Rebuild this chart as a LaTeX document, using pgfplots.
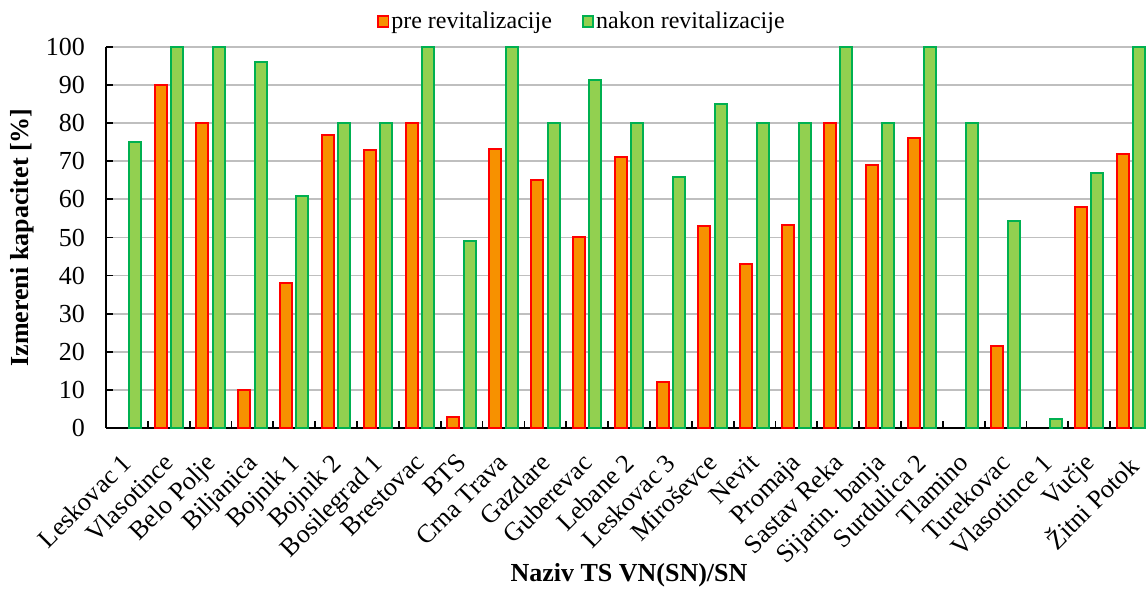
\documentclass[border=0pt]{standalone}
\usepackage{pgfplots}
\pgfplotsset{compat=1.18}
\usepackage{fontspec}
\setmainfont{Liberation Serif}
\definecolor{preFill}{HTML}{F79100}
\definecolor{preEdge}{HTML}{FF0000}
\definecolor{postFill}{HTML}{92D050}
\definecolor{postEdge}{HTML}{00B050}
\definecolor{gridGray}{HTML}{BFBFBF}
\begin{document}
\begin{tikzpicture}
\useasboundingbox (-53pt,-82pt) rectangle (520pt,214pt);
\begin{axis}[
  at={(0,0)}, anchor=south west,
  scale only axis,
  width=523pt, height=190.5pt,
  ybar=2.2pt, bar width=6pt,
  xmin=-0.5, xmax=24.5,
  ymin=0, ymax=100,
  ytick={0,10,...,100},
  xtick={0,...,24},
  xticklabels={Leskovac 1,Vlasotince,Belo Polje,Biljanica,Bojnik 1,Bojnik 2,Bosilegrad 1,Brestovac,BTS,Crna Trava,Gazdare,Guberevac,Lebane 2,Leskovac 3,Miroševce,Nevit,Promaja,Sastav Reka,Sijarin. banja,Surdulica 2,Tlamino,Turekovac,Vlasotince 1,Vučje,Žitni Potok},
  minor xtick={0.5,1.5,...,23.5},
  major x tick style={draw=none},
  minor tick length=3.5pt,
  major tick length=3.5pt,
  tick align=inside,
  tick style={black, line width=0.9pt},
  axis x line*=bottom, axis y line*=left,
  axis line style={black, line width=1pt, -},
  ymajorgrids, grid style={gridGray, line width=0.9pt},
  /pgf/number format/assume math mode=true,
  ticklabel style={font=\fontsize{13}{15}\selectfont},
  yticklabel style={xshift=-7pt},
  xticklabel style={xshift=-7.5pt, yshift=-7.5pt, rotate=45, anchor=north east, inner sep=1pt, xshift=1pt, yshift=-5pt},
  xlabel={\textbf{Naziv TS VN(SN)/SN}},
  ylabel={\textbf{Izmereni kapacitet [\%]}},
  label style={font=\fontsize{13}{15}\selectfont},
  xlabel style={at={(axis description cs:0.5,-0.3858)}, anchor=center},
  ylabel style={at={(axis description cs:-0.0803,0.5)}, anchor=center},
  legend columns=2,
  legend style={draw=none, fill=none, at={(rel axis cs:0.455,1.066)}, anchor=center,
    font=\fontsize{12}{14}\selectfont,
    /tikz/every even column/.append style={column sep=14pt},
    nodes={inner sep=1pt}},
  legend image code/.code={\draw[#1, line width=0.9pt] (0pt,-2.6pt) rectangle (5.2pt,2.8pt);},
  clip=false,
]
\addplot[fill=preFill, draw=preEdge, line width=1pt] coordinates {
(1,90) (2,80) (3,10) (4,38) (5,77) (6,73) (7,80) (8,3) (9,73.3)
(10,65) (11,50) (12,71) (13,12) (14,53) (15,43) (16,53.3) (17,80) (18,69) (19,76)
(21,21.5) (23,58) (24,72)};
\addplot[fill=postFill, draw=postEdge, line width=1pt] coordinates {
(0,75) (1,100) (2,100) (3,96) (4,61) (5,80) (6,80) (7,100) (8,49) (9,100)
(10,80) (11,91.3) (12,80) (13,66) (14,85) (15,80) (16,80) (17,100) (18,80) (19,100)
(20,80) (21,54.3) (22,2.4) (23,67) (24,100)};
\legend{pre revitalizacije, nakon revitalizacije}
\end{axis}
\end{tikzpicture}
\end{document}
